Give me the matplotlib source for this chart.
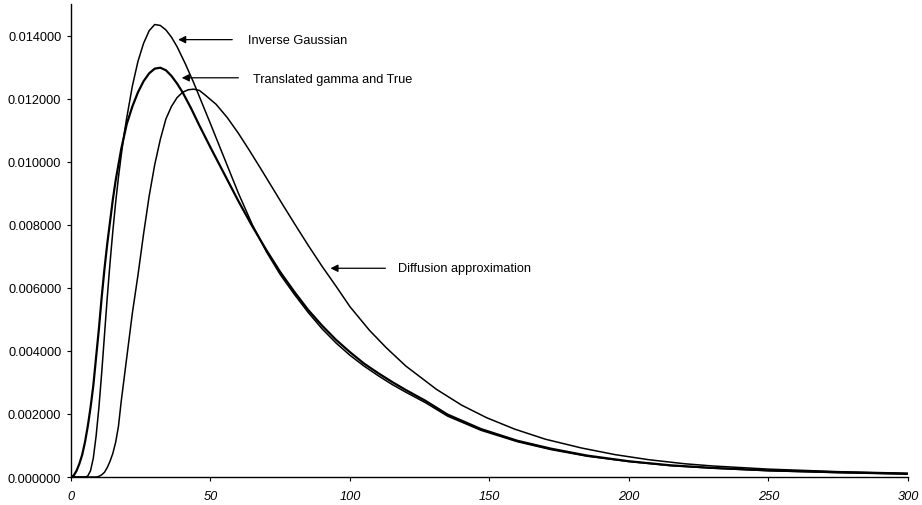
import numpy as np
import matplotlib
matplotlib.use("Agg")
import matplotlib.pyplot as plt

plt.rcParams['font.family'] = ['Liberation Sans', 'DejaVu Sans']

# values
tg_x = [0, 1, 2, 3, 4, 5, 6, 7, 8, 9, 10, 11, 12, 13, 14, 15, 16, 17, 18, 20,
        22, 24, 26, 28, 30, 32, 34, 36, 38, 40, 43, 46, 50, 55, 60, 65, 70, 75,
        80, 85, 90, 95, 100, 105, 110, 115, 120, 127, 135, 147, 160, 172, 185,
        200, 215, 230, 250, 275, 300]
tg_y = [0.0, 0.00005, 0.0002, 0.00042, 0.0007, 0.0011, 0.0016, 0.0022, 0.0029, 0.0038,
        0.0047, 0.0057, 0.0066, 0.0074, 0.0081, 0.0088, 0.0094, 0.0099, 0.0104, 0.0112,
        0.01175, 0.0122, 0.01255, 0.0128, 0.01295, 0.01298, 0.0129, 0.01272, 0.01248,
        0.0122, 0.0117, 0.01115, 0.01045, 0.0096, 0.00875, 0.00795, 0.0072, 0.0065,
        0.00588, 0.0053, 0.0048, 0.00435, 0.00396, 0.0036, 0.0033, 0.00302, 0.00276,
        0.00242, 0.00198, 0.00152, 0.00115, 0.0009, 0.00068, 0.0005, 0.00037, 0.00029,
        0.00021, 0.00015, 0.0001]

ig_x = [0, 5, 6, 7, 8, 9, 10, 11, 12, 13, 14, 15, 16, 17, 18, 19, 20, 22, 24, 26,
        28, 30, 32, 34, 36, 38, 41, 44, 47, 50, 55, 60, 65, 70, 75, 80, 85, 90, 95,
        100, 105, 110, 115, 120, 127, 135, 147, 160, 172, 185, 200, 215, 230, 250,
        275, 300]
ig_y = [0.0, 0.0, 0.00003, 0.0002, 0.0006, 0.0013, 0.0022, 0.0033, 0.0045, 0.0057,
        0.0068, 0.0078, 0.0087, 0.0095, 0.0102, 0.01085, 0.0114, 0.0124, 0.01318,
        0.01375, 0.01415, 0.01435, 0.01432, 0.01418, 0.01395, 0.01365, 0.0131, 0.0125,
        0.01185, 0.0112, 0.0101, 0.0090, 0.0080, 0.00715, 0.00642, 0.0058, 0.00522,
        0.0047, 0.00425, 0.00386, 0.00352, 0.00322, 0.00294, 0.00269, 0.00236, 0.00193,
        0.00148, 0.00112, 0.00087, 0.00066, 0.00049, 0.00036, 0.00028, 0.0002, 0.00014,
        0.0001]

da_x = [0, 9, 10, 11, 12, 13, 14, 15, 16, 17, 18, 19, 20, 22, 24, 26, 28, 30, 32,
        34, 36, 38, 40, 42, 44, 46, 48, 52, 56, 60, 64, 68, 72, 76, 80, 85, 90, 95,
        100, 107, 113, 120, 131, 140, 149, 159, 170, 183, 195, 207, 220, 230, 250,
        275, 300]
da_y = [0.0, 0.0, 0.00002, 0.00007, 0.00015, 0.0003, 0.0005, 0.00075, 0.0011, 0.0016,
        0.0024, 0.0031, 0.0038, 0.0052, 0.0064, 0.0077, 0.0089, 0.0099, 0.0107, 0.01135,
        0.01175, 0.01203, 0.0122, 0.01228, 0.0123, 0.01226, 0.01212, 0.01182, 0.0114,
        0.0109, 0.01035, 0.00978, 0.0092, 0.00862, 0.00805, 0.00735, 0.00668, 0.00605,
        0.0054, 0.00465, 0.0041, 0.00352, 0.00278, 0.00228, 0.00188, 0.00152, 0.0012,
        0.00092, 0.00071, 0.00055, 0.00042, 0.00035, 0.00025, 0.00017, 0.00012]

y_ticks = [0.0, 0.002, 0.004, 0.006, 0.008, 0.010, 0.012, 0.014]
x_ticks = [0, 50, 100, 150, 200, 250, 300]

fig = plt.figure(figsize=(9.22, 5.06), dpi=100)
ax = fig.add_axes([0.077, 0.0553, 0.9078, 0.9348])

ax.plot(ig_x, ig_y, color='black', lw=1.1)
ax.plot(da_x, da_y, color='black', lw=1.1)
ax.plot(tg_x, tg_y, color='black', lw=1.6)

ax.set_xlim(0, 300)
ax.set_ylim(0, 0.015)
ax.set_yticks(y_ticks)
ax.set_yticklabels(['%.6f' % v for v in y_ticks])
ax.set_xticks(x_ticks)
ax.set_xticklabels([str(v) for v in x_ticks], fontstyle='italic')

for s in ['top', 'right']:
    ax.spines[s].set_visible(False)
for s in ['left', 'bottom']:
    ax.spines[s].set_linewidth(1.0)

ax.tick_params(axis='y', length=3, width=0.8, pad=4, labelsize=9.2)
ax.tick_params(axis='x', length=3, width=0.8, pad=6, labelsize=9.2)

arrow = dict(arrowstyle='-|>', color='black', lw=0.9, mutation_scale=11, shrinkA=0, shrinkB=0)
ax.annotate('', xy=(38.4, 0.01387), xytext=(57.8, 0.01387), arrowprops=arrow)
ax.text(63.5, 0.01387, 'Inverse Gaussian', fontsize=9.2, va='center', ha='left')
ax.annotate('', xy=(39.7, 0.01266), xytext=(60.0, 0.01266), arrowprops=arrow)
ax.text(65.4, 0.01262, 'Translated gamma and True', fontsize=9.2, va='center', ha='left')
ax.annotate('', xy=(93.0, 0.00662), xytext=(112.7, 0.00662), arrowprops=arrow)
ax.text(117.3, 0.00662, 'Diffusion approximation', fontsize=9.2, va='center', ha='left')

fig.savefig('out.png', dpi=100)
